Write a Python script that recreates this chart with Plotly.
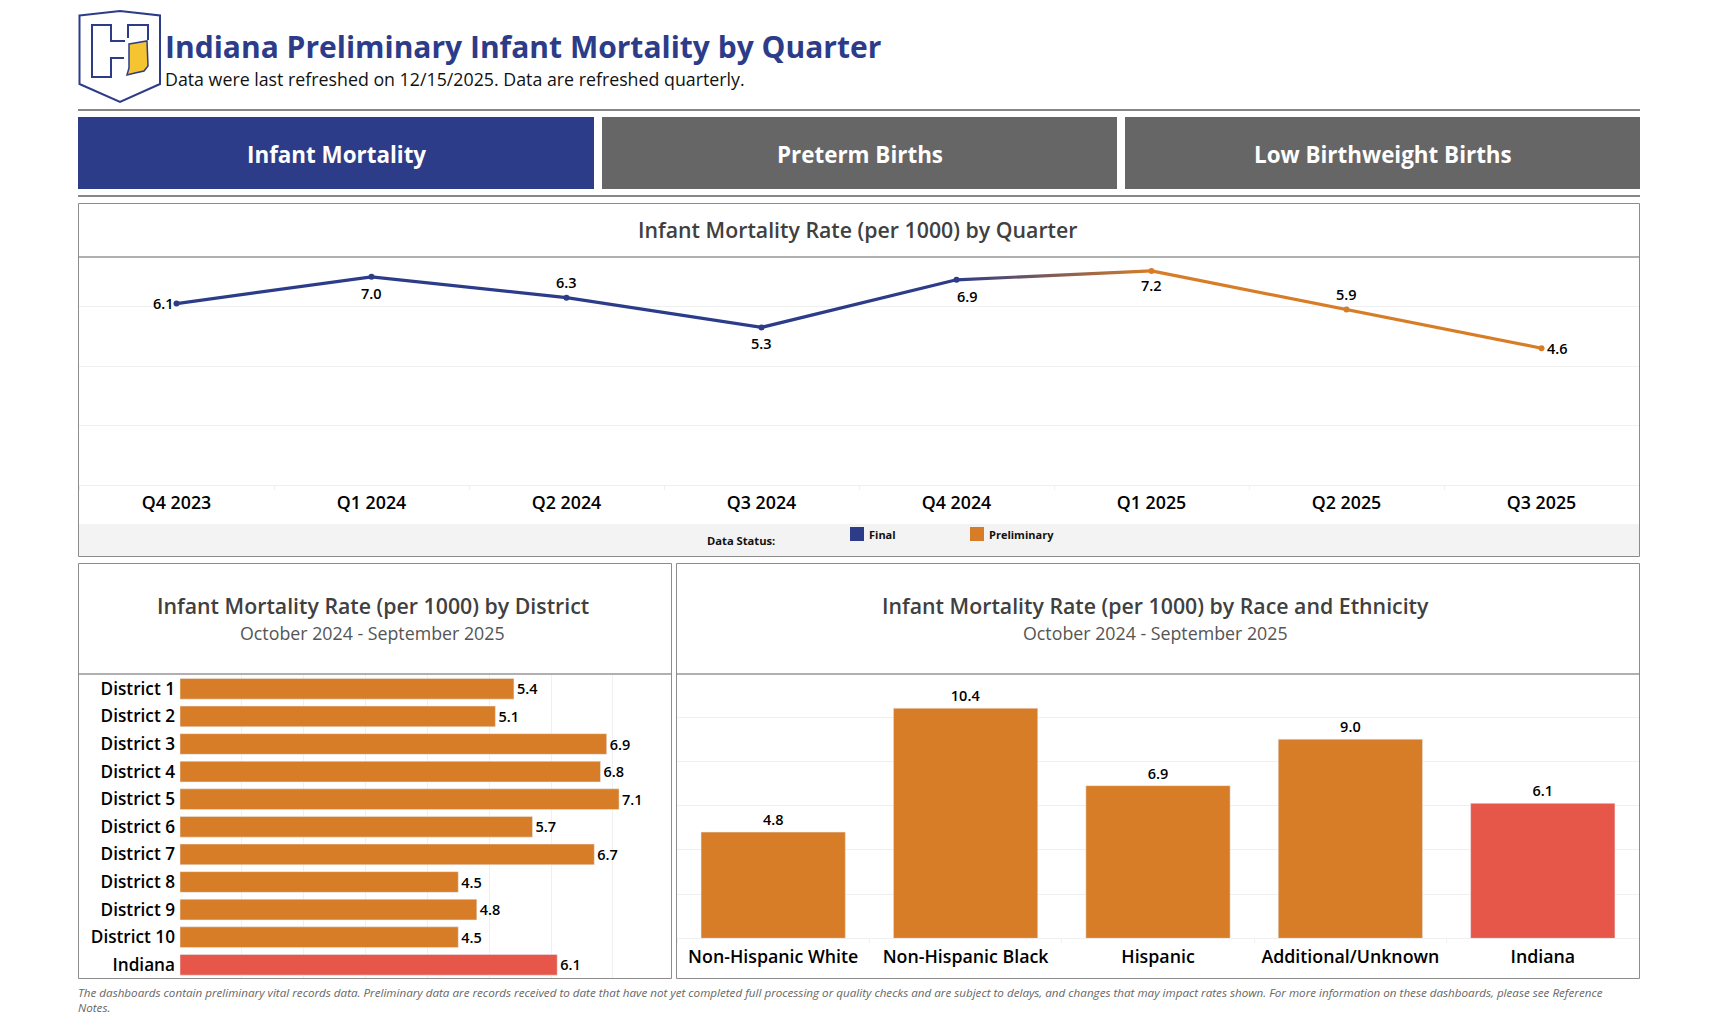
import plotly.graph_objects as go

W, H = 1719, 1026

# data
quarters = ["Q4 2023", "Q1 2024", "Q2 2024", "Q3 2024", "Q4 2024", "Q1 2025", "Q2 2025", "Q3 2025"]
quarter_rates = [6.1, 7.0, 6.3, 5.3, 6.9, 7.2, 5.9, 4.6]
final_count = 5  # first five quarters are final, rest preliminary

districts = ["District 1", "District 2", "District 3", "District 4", "District 5", "District 6",
             "District 7", "District 8", "District 9", "District 10", "Indiana"]
district_rates = [5.4, 5.1, 6.9, 6.8, 7.1, 5.7, 6.7, 4.5, 4.8, 4.5, 6.1]

races = ["Non-Hispanic White", "Non-Hispanic Black", "Hispanic", "Additional/Unknown", "Indiana"]
race_rates = [4.8, 10.4, 6.9, 9.0, 6.1]

tabs = ["Infant Mortality", "Preterm Births", "Low Birthweight Births"]

BLUE = "#2c3c89"
ORANGE = "#d87d27"
RED = "#e6574a"
GREY = "#666666"
GRID = "#f0f0f0"
BORDER = "#8c8c8c"
DIVIDER = "#b0b0b0"
FONT = "Open Sans"

# pixel nudges for the line chart's value labels, same order as quarters
label_shifts = [(-13, 0), (0, -16.5), (0, 15), (0, -16.5), (11, -16.5), (0, -14.5), (0, 15), (15.5, 0)]


def fx(px):
    return px / W


def fy(py):
    return 1 - py / H


def box(x0, y0, x1, y1, fill=None, line=None, width=1, layer="below"):
    return dict(type="rect", xref="paper", yref="paper", x0=fx(x0), x1=fx(x1), y0=fy(y0), y1=fy(y1),
                fillcolor=fill or "rgba(0,0,0,0)", line=dict(color=line, width=width if line else 0),
                layer=layer)


def rule(x0, x1, y, color, width):
    return dict(type="line", xref="paper", yref="paper", x0=fx(x0), x1=fx(x1), y0=fy(y), y1=fy(y),
                line=dict(color=color, width=width), layer="below")


def logo_path(points, close=False):
    # points are pixels on the page
    parts = [f"{'M' if i == 0 else 'L'} {fx(x):.5f} {fy(y):.5f}" for i, (x, y) in enumerate(points)]
    return " ".join(parts) + (" Z" if close else "")


def label(x, y, text, size, color="#000000", weight=400, anchor="center", italic=False):
    return dict(xref="paper", yref="paper", x=fx(x), y=fy(y), text=text, showarrow=False,
                xanchor=anchor, yanchor="middle", align="left",
                font=dict(family=FONT, size=size, color=color, weight=weight,
                          style="italic" if italic else "normal"))


shapes = []
notes = []

# header
shapes += [rule(78, 1640, 110, "#878787", 2), rule(78, 1640, 196, "#878787", 2)]
notes += [label(163, 47, "Indiana Preliminary Infant Mortality by Quarter", 30, BLUE, 700, "left"),
          label(163, 79, "Data were last refreshed on 12/15/2025. Data are refreshed quarterly.", 17.8, "#111111", 400, "left")]

# logo
shield = [(79.5, 15.5), (120, 11), (160, 15.5), (160, 84), (120, 102), (79.5, 84)]
h_left = [(125, 41), (111, 41), (111, 25), (92, 25), (92, 77), (111, 77), (111, 58), (124, 58)]
h_right = [(128, 38), (128, 25), (148, 25), (148, 40)]
state = [(129, 44), (147, 41), (148, 66), (144, 71), (135, 73), (127, 75), (129, 68)]
for pts, closed in [(shield, True), (h_left, False), (h_right, False)]:
    shapes.append(dict(type="path", xref="paper", yref="paper", path=logo_path(pts, closed),
                       line=dict(color=BLUE, width=2)))
shapes.append(dict(type="path", xref="paper", yref="paper", path=logo_path(state, True),
                   fillcolor="#f5c431", line=dict(color=BLUE, width=1.5)))

# tab buttons
tab_edges = [(78, 594), (602, 1117), (1125, 1640)]
for i, (name, (x0, x1)) in enumerate(zip(tabs, tab_edges)):
    shapes.append(box(x0, 117, x1, 189, fill=BLUE if i == 0 else GREY))
    notes.append(label((x0 + x1) / 2, 154.5, name, 22.4, "#ffffff", 700))

# panels, border goes on top so the light axis ticks don't cut it
shapes.append(box(79, 524, 1639, 556, fill="#f3f3f3"))
for x0, y0, x1, y1, divider_y in [(78.5, 203.5, 1639.5, 556.5, 257), (78.5, 563.5, 671.5, 978.5, 674),
                                  (676.5, 563.5, 1639.5, 978.5, 674)]:
    shapes.append(box(x0, y0, x1, y1, line=BORDER, layer="above"))
    shapes.append(rule(x0, x1, divider_y, DIVIDER, 2))

notes += [label(857, 229, "Infant Mortality Rate (per 1000) by Quarter", 21.3, "#404040", 600),
          label(372.5, 605, "Infant Mortality Rate (per 1000) by District", 21.3, "#404040", 600),
          label(372, 633, "October 2024 - September 2025", 17.8, "#555555", 400),
          label(1155, 605, "Infant Mortality Rate (per 1000) by Race and Ethnicity", 21.3, "#404040", 600),
          label(1155, 633, "October 2024 - September 2025", 17.8, "#555555", 400)]

# legend strip
shapes += [box(850, 527, 864, 541, fill=BLUE), box(970, 527, 984, 541, fill=ORANGE)]
notes += [label(705, 540, "Data Status:", 11.2, "#111111", 700, "left"),
          label(867, 534.5, "Final", 11, "#111111", 700, "left"),
          label(987, 534.5, "Preliminary", 11, "#111111", 700, "left")]

# footnote
notes.append(label(76, 1000,
                   "The dashboards contain preliminary vital records data. Preliminary data are records received to date that have not yet completed full processing or quality checks and are subject to delays, and changes that may impact rates shown. For more information on these dashboards, please see Reference<br>Notes.",
                   11.65, "#666666", 400, "left", italic=True))

value_font = dict(family=FONT, size=14.5, color="#000000", weight=600)

# value labels on the line chart sit at the data point, nudged in pixels
for q, v, (dx, dy) in zip(quarters, quarter_rates, label_shifts):
    notes.append(dict(xref="x", yref="y", x=q, y=v, text=f"{v:.1f}", showarrow=False,
                      xshift=dx, yshift=dy, font=value_font))

fig = go.Figure()

# quarterly line, split at the final/preliminary boundary
fig.add_trace(go.Scatter(x=quarters[:final_count], y=quarter_rates[:final_count],
                         mode="lines+markers", line=dict(color=BLUE, width=3.2),
                         marker=dict(color=BLUE, size=6), cliponaxis=False, showlegend=False))
fig.add_trace(go.Scatter(x=quarters[final_count - 1:final_count + 1], y=quarter_rates[final_count - 1:final_count + 1],
                         mode="lines", line=dict(color=ORANGE, width=3.2), showlegend=False))
fig.add_trace(go.Scatter(x=quarters[final_count:], y=quarter_rates[final_count:],
                         mode="lines+markers", line=dict(color=ORANGE, width=3.2),
                         marker=dict(color=ORANGE, size=6), cliponaxis=False, showlegend=False))

# district bars
fig.add_trace(go.Bar(x=district_rates, y=districts, orientation="h", xaxis="x2", yaxis="y2",
                     marker=dict(color=[RED if d == "Indiana" else ORANGE for d in districts]),
                     text=[f"{v:.1f}" for v in district_rates], textposition="outside", textangle=0,
                     textfont=value_font, cliponaxis=False, showlegend=False))

# race bars
fig.add_trace(go.Bar(x=races, y=race_rates, xaxis="x3", yaxis="y3",
                     marker=dict(color=[RED if r == "Indiana" else ORANGE for r in races]),
                     text=[f"{v:.1f}" for v in race_rates], textposition="outside", textangle=0,
                     textfont=value_font, cliponaxis=False, showlegend=False))

x_tick_font = dict(family=FONT, size=17.8, color="#000000", weight=600)
y_tick_font = dict(family=FONT, size=17.2, color="#000000", weight=600)

fig.update_layout(
    width=W, height=H, autosize=False,
    margin=dict(l=0, r=0, t=0, b=0),
    paper_bgcolor="white", plot_bgcolor="rgba(0,0,0,0)",
    showlegend=False, bargap=0.25,
    shapes=shapes, annotations=notes,
    xaxis=dict(domain=[fx(79), fx(1639)], type="category", categoryorder="array", categoryarray=quarters,
               range=[-0.5, 7.5], tickson="boundaries", ticks="outside", ticklen=4, tickcolor=GRID,
               ticklabelstandoff=5, tickfont=x_tick_font, showgrid=False, showline=False, zeroline=False),
    yaxis=dict(domain=[fy(485), fy(259)], range=[0, 7.6], tickvals=[2, 4, 6], showticklabels=False,
               gridcolor=GRID, zeroline=True, zerolinecolor=GRID, zerolinewidth=1, ticks=""),
    xaxis2=dict(domain=[fx(180), fx(671)], range=[0, 7.94], dtick=1, showticklabels=False, gridcolor=GRID,
                anchor="y2", zeroline=False, ticks=""),
    yaxis2=dict(domain=[fy(978.6), fy(675)], autorange="reversed", type="category", anchor="x2",
                ticklabelstandoff=4, tickfont=y_tick_font, showgrid=False, ticks=""),
    xaxis3=dict(domain=[fx(677), fx(1639)], type="category", anchor="y3", tickson="boundaries", ticks="outside",
                ticklen=4, tickcolor=GRID, ticklabelstandoff=6, tickfont=x_tick_font, showgrid=False, zeroline=False),
    yaxis3=dict(domain=[fy(938.3), fy(675)], range=[0, 11.9], tickvals=[2, 4, 6, 8, 10], showticklabels=False,
                gridcolor=GRID, anchor="x3", zeroline=True, zerolinecolor=GRID, zerolinewidth=1, ticks=""),
)

# the Q4 2024 -> Q1 2025 segment fades from final to preliminary colour, page has no body margin
fade = f"""
document.body.style.margin = '0';
document.body.style.overflow = 'hidden';
var svg = document.querySelector('.main-svg');
var ns = 'http://www.w3.org/2000/svg';
var defs = document.createElementNS(ns, 'defs');
var grad = document.createElementNS(ns, 'linearGradient');
grad.setAttribute('id', 'statusFade');
[['0%', '{BLUE}'], ['100%', '{ORANGE}']].forEach(function (s) {{
  var stop = document.createElementNS(ns, 'stop');
  stop.setAttribute('offset', s[0]);
  stop.setAttribute('stop-color', s[1]);
  grad.appendChild(stop);
}});
defs.appendChild(grad);
svg.appendChild(defs);
var seg = document.querySelectorAll('.scatterlayer .trace')[1].querySelector('.js-line');
seg.style.stroke = 'url(#statusFade)';
"""
fig.write_html("out.html", post_script=fade, config=dict(displayModeBar=False))
